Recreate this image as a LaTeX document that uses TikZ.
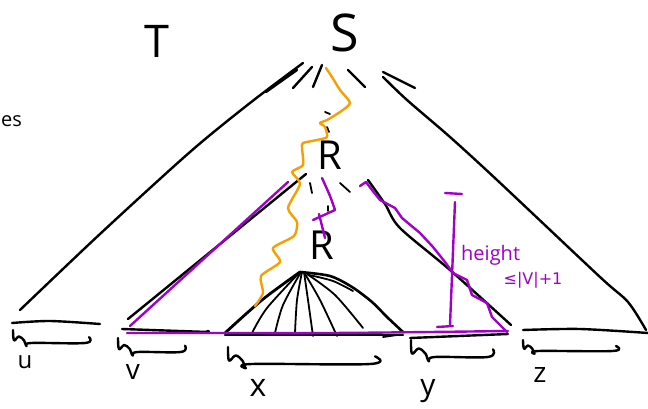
\documentclass[tikz,border=0pt]{standalone}
\usepackage{fontspec}
\setmainfont{Open Sans}
\newfontfamily\dejavu{DejaVu Sans}
\definecolor{orng}{RGB}{245,160,0}
\definecolor{purp}{RGB}{160,0,200}
\newcommand\handbrace[4]{%
  \draw[ink] plot[smooth,tension=0.6] coordinates {(#1,#2) ({#1+1},{#2+0.8*#4}) ({#1+0.45*#4},{#2+0.5*#4}) ({#1+0.85*#4},{#2+0.8*#4}) ({#1+1.05*#4},{#2+1.25*#4}) ({#1+1.4*#4},{#2+#4}) ({#3-0.3*#4},{#2+#4}) ({#3},{#2+0.55*#4})};}
\begin{document}
\begin{tikzpicture}[x=1pt,y=-1pt,
  ink/.style={line width=2.4pt,line cap=round,line join=round,black},
  thin ink/.style={line width=1.8pt,line cap=round,line join=round,black},
  pen/.style={line width=2.4pt,line cap=round,line join=round,purp},
  trail/.style={line width=2.4pt,line cap=round,line join=round,orng},
  lbl/.style={inner sep=0pt,text=black}]
\fill[white] (0,0) rectangle (648,409);
\useasboundingbox (0,0) rectangle (648,409);

% texts
\node[lbl,font=\fontsize{45}{45}\selectfont] (tT) at (157,41) {T};
\node[lbl,font=\fontsize{52}{52}\selectfont] (tS) at (345,33) {S};
\node[lbl,font=\fontsize{40}{40}\selectfont] (tR1) at (330,155) {R};
\node[lbl,font=\fontsize{40}{40}\selectfont] (tR2) at (322,245) {R};
\node[lbl,font=\fontsize{20}{20}\selectfont,anchor=west] (tes) at (1,121) {es};
\node[lbl,font=\fontsize{24}{24}\selectfont] (tu) at (25,362) {u};
\node[lbl,font=\fontsize{28}{28}\selectfont] (tv) at (133,372) {v};
\node[lbl,font=\fontsize{32}{32}\selectfont] (tx) at (258,388) {x};
\node[lbl,font=\fontsize{30}{30}\selectfont,anchor=north] (ty) at (428,379) {y};
\node[lbl,font=\fontsize{28}{28}\selectfont] (tz) at (540,375) {z};
\node[lbl,text=purp,font=\fontsize{20}{20}\selectfont,anchor=west] (th) at (461,255) {height};
\node[lbl,text=purp,font=\dejavu\fontsize{16}{16}\selectfont] (tb) at (533,280) {≤|V|+1};

% big tree T
\draw[ink] plot[smooth] coordinates {(303,63) (250,103) (190,152) (100,234) (20,310)};
\draw[ink] (266,92) -- (297,70);
\draw[ink] (293,88) -- (312,67);
\draw[ink] (313,87) -- (322,65);
\draw[ink] (348,70) -- (365,87);
\draw[ink] (383,72) -- (415,88);
\draw[ink] plot[smooth] coordinates {(383,77) (407,100) (450,137) (497,180) (600,277) (628,302) (646,330)};

% small marks around R
\draw[thin ink] (325,112) -- (330,114);
\draw[thin ink] (327,127) -- (329,132);
\draw[thin ink] (310,183) -- (312,193);
\draw[thin ink] (340,183) -- (350,192);
\draw[thin ink] (328,206) -- (328,211);

% inner triangle (subtree of R)
\draw[ink] (306,174) -- (128,319);
\draw[ink] plot[smooth] coordinates {(368,180) (385,204) (400,228) (450,270) (511,325)};

% bottom pieces
\draw[ink] plot[smooth] coordinates {(12,323) (50,321) (100,324)};
\draw[ink] (122,329) -- (208,332);
\fill (208,332) circle (2.2pt);
\draw[ink] (225,335) -- (403,335);
\draw[ink] (410,338) -- (508,334);
\draw[ink] plot[smooth] coordinates {(523,330) (580,329) (648,333)};

% braces
\handbrace{13}{330}{89}{13}
\handbrace{118}{338}{185}{14}
\handbrace{228}{347}{375}{17}
\handbrace{411}{340}{493}{17}
\handbrace{523}{340}{616}{11}

% fan under second R
\draw[line width=2.8pt,line cap=round,line join=round] plot[smooth] coordinates {(300,272) (262,300) (225,333)};
\draw[thin ink] plot[smooth] coordinates {(300,272) (267,308) (252,333)};
\draw[thin ink] plot[smooth] coordinates {(301,272) (283,305) (275,333)};
\draw[thin ink] plot[smooth] coordinates {(302,272) (297,300) (295,333)};
\draw[thin ink] plot[smooth] coordinates {(304,272) (308,300) (313,336)};
\draw[thin ink] plot[smooth] coordinates {(305,274) (320,300) (337,336)};
\draw[thin ink] plot[smooth] coordinates {(307,274) (335,295) (363,328)};
\draw[thin ink] plot[smooth] coordinates {(309,275) (333,281) (353,291)};
\draw[line width=2.6pt,line cap=round,line join=round] plot[smooth] coordinates {(300,272) (330,276) (352,287) (372,302) (387,317) (403,332)};
\draw[thin ink] (383,337) -- (397,335);

% purple path
\draw[pen] (288,182) -- (130,326);
\draw[pen] plot[smooth] coordinates {(127,333) (210,333) (330,333) (430,332) (508,331)};
\draw[pen] plot[sharp plot] coordinates {(360,186) (366,182) (372,190) (380,200) (395,208) (402,218) (420,233) (433,247) (445,262) (453,273) (467,280) (472,295) (487,303) (492,317) (507,332)};
\draw[pen] plot[smooth] coordinates {(322,178) (330,196) (335,210)} -- (313,220);
\draw[pen] (319,214) -- (325,238);
% height marker
\draw[pen] (445,193) -- (462,194);
\draw[pen] (455,202) -- (450,325);
\draw[pen] (437,327) -- (453,326);

% orange path
\draw[trail] plot[smooth,tension=0.4] coordinates {(326,68) (332,77) (340,90) (350,103) (340,112) (327,120) (320,123) (325,127) (327,137) (317,140) (303,143) (302,148) (303,165) (292,172) (300,184) (288,208) (297,222) (294,236) (273,248) (280,262) (261,276) (263,293) (255,306)};
\end{tikzpicture}
\end{document}
